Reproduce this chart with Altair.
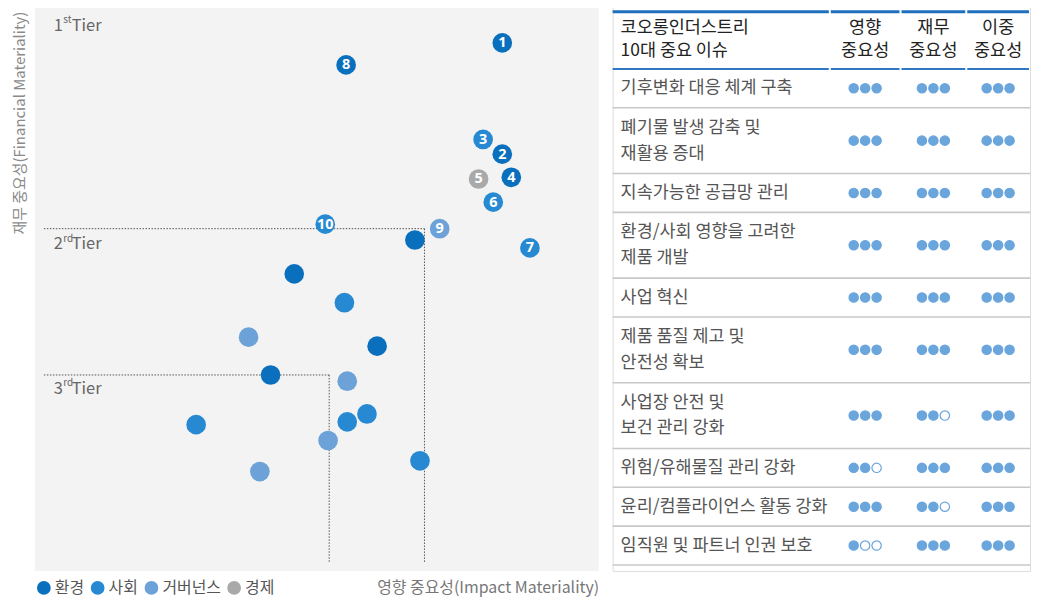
import altair as alt
import pandas as pd

FONT = "Noto Sans CJK KR"

# ---------------- scatter data (0-100 scale on both axes) ----------------
point_label = ["", "", "", "", "", "", "", "", "", "", "", "", "",
               "8", "10", "9", "7", "6", "5", "3", "2", "4", "1"]
point_category = ["환경", "환경", "사회", "거버넌스", "환경", "환경", "거버넌스", "사회", "사회", "사회", "거버넌스", "사회", "거버넌스",
                  "환경", "사회", "거버넌스", "사회", "사회", "경제", "사회", "환경", "환경", "환경"]
impact_x = [67.4, 46.0, 54.9, 37.9, 60.7, 41.8, 55.4, 58.9, 55.4, 28.6, 52.0, 68.3, 39.9,
            55.2, 51.5, 71.8, 87.8, 81.3, 78.7, 79.5, 82.9, 84.5, 82.9]
financial_y = [58.6, 52.6, 47.5, 41.4, 39.8, 34.7, 33.6, 27.8, 26.4, 25.9, 23.1, 19.5, 17.6,
               89.6, 61.4, 60.6, 57.2, 65.3, 69.4, 76.4, 73.8, 69.7, 93.5]

categories = ["환경", "사회", "거버넌스", "경제"]
category_colors = ["#0a6fbd", "#2789d1", "#6da2d8", "#a9a9a9"]

tier_number = ["1", "2", "3"]
tier_suffix = ["st", "rd", "rd"]
tier_label_y = [96.5, 57.8, 32.2]
tier_x = [69.1, 52.2]      # impact threshold of 2nd / 3rd tier
tier_y = [60.6, 34.7]      # financial threshold of 2nd / 3rd tier

# ---------------- table data ----------------
issues = ["기후변화 대응 체계 구축", "폐기물 발생 감축 및\n재활용 증대", "지속가능한 공급망 관리",
          "환경/사회 영향을 고려한\n제품 개발", "사업 혁신", "제품 품질 제고 및\n안전성 확보",
          "사업장 안전 및\n보건 관리 강화", "위험/유해물질 관리 강화",
          "윤리/컴플라이언스 활동 강화", "임직원 및 파트너 인권 보호"]
impact_rating = [3, 3, 3, 3, 3, 3, 3, 2, 3, 1]
financial_rating = [3, 3, 3, 3, 3, 3, 2, 3, 2, 3]
dual_rating = [3, 3, 3, 3, 3, 3, 3, 3, 3, 3]
table_title = "코오롱인더스트리\n10대 중요 이슈"
column_headers = ["영향\n중요성", "재무\n중요성", "이중\n중요성"]

# ---------------- scatter chart ----------------
W, H = 566, 567
pts = pd.DataFrame({"x": impact_x, "y": financial_y, "cat": point_category, "label": point_label})
xs = alt.Scale(domain=[0, 100], nice=False, zero=False)
ys = alt.Scale(domain=[0, 100], nice=False, zero=False)
xaxis = alt.Axis(title="영향 중요성(Impact Materiality)", labels=False, ticks=False, domain=False, grid=False,
                 titleAnchor="end", titleFontSize=16, titleFontWeight="normal", titleColor="#777777",
                 titlePadding=9, titleFont=FONT)
yaxis = alt.Axis(title="재무 중요성(Financial Materiality)", labels=False, ticks=False, domain=False, grid=False,
                 titleAnchor="end", titleFontSize=15, titleFontWeight="normal", titleColor="#8a8a8a",
                 titlePadding=7, titleFont=FONT, titleY=5)

rules = []
for tx, ty in zip(tier_x, tier_y):
    rules.append({"x": 1.6, "x2": tx, "y": ty, "y2": ty})
    rules.append({"x": tx, "x2": tx, "y": ty, "y2": 1.4})
rules_df = pd.DataFrame(rules)

dash = alt.Chart(rules_df).mark_rule(color="#555555", strokeWidth=1, strokeDash=[1.5, 1.5]).encode(
    x=alt.X("x:Q", scale=xs, axis=xaxis), x2="x2:Q",
    y=alt.Y("y:Q", scale=ys, axis=yaxis), y2="y2:Q")

circles = alt.Chart(pts).mark_circle(size=390, opacity=1).encode(
    x=alt.X("x:Q", scale=xs, axis=xaxis),
    y=alt.Y("y:Q", scale=ys, axis=yaxis),
    color=alt.Color("cat:N", scale=alt.Scale(domain=categories, range=category_colors),
                    sort=categories,
                    legend=alt.Legend(title=None, orient="none", legendX=1, legendY=576, direction="horizontal",
                                      columns=4, symbolType="circle", symbolSize=190, symbolStrokeWidth=0,
                                      labelFontSize=16, labelColor="#555555", labelFont=FONT, labelOffset=3,
                                      columnPadding=5, padding=0)))

nums = alt.Chart(pts).mark_text(color="white", fontSize=14.5, fontWeight="bold", font="Noto Sans",
                                align="center", baseline="middle", dy=0.5).encode(
    x=alt.X("x:Q", scale=xs, axis=xaxis), y=alt.Y("y:Q", scale=ys, axis=yaxis), text="label:N")

tiers = pd.DataFrame({"num": tier_number, "suf": tier_suffix, "y": tier_label_y, "x": [3.35] * 3})
tier_num = alt.Chart(tiers).mark_text(fontSize=16.5, color="#666666", align="left", baseline="middle", font=FONT).encode(
    x=alt.X("x:Q", scale=xs, axis=xaxis), y=alt.Y("y:Q", scale=ys, axis=yaxis), text="num:N")
tier_suf = alt.Chart(tiers).mark_text(fontSize=10, color="#666666", align="left", baseline="middle", dx=9.5, dy=-6,
                                      font=FONT).encode(
    x=alt.X("x:Q", scale=xs, axis=xaxis), y=alt.Y("y:Q", scale=ys, axis=yaxis), text="suf:N")
tier_word = alt.Chart(tiers).mark_text(fontSize=16.5, color="#666666", align="left", baseline="middle", dx=18,
                                       font=FONT, text="Tier").encode(
    x=alt.X("x:Q", scale=xs, axis=xaxis), y=alt.Y("y:Q", scale=ys, axis=yaxis))

left = alt.layer(dash, circles, nums, tier_num, tier_suf, tier_word).properties(
    width=W, height=H, view=alt.ViewBackground(fill="#f3f3f3", strokeWidth=0))

# ---------------- table chart ----------------
TW, TH = 419, 567
col_edges = [0, 218, 289, 355, 419]
col_centers = [(col_edges[i] + col_edges[i + 1]) / 2 for i in range(1, 4)]
header_top, header_bottom, row_h1, row_h2 = 5.5, 63, 39, 66
LH = 26          # line height of wrapped cell text
TFS = 17.5       # table font size

bounds = [header_top, header_bottom]
for t in issues:
    bounds.append(bounds[-1] + (row_h2 if "\n" in t else row_h1))


def first_line_y(center, text, lh):
    n = text.count("\n") + 1
    return center - (n - 1) * lh / 2


lines = []
for yy, colr, wdt in [(bounds[0], "#1f6fbf", 3), (bounds[1], "#2e78c4", 2)]:
    for i in range(4):
        lines.append({"x": col_edges[i] + (1 if i > 0 else 0), "x2": col_edges[i + 1] - 1,
                      "y": yy, "c": colr, "w": wdt})
for yy in bounds[2:]:
    lines.append({"x": 0, "x2": TW, "y": yy, "c": "#c8c8c8", "w": 1.6})
lines_df = pd.DataFrame(lines)

txs = alt.Scale(domain=[0, TW], nice=False, zero=False)
tys = alt.Scale(domain=[0, TH], nice=False, zero=False, reverse=True)

t_rules = alt.Chart(lines_df).mark_rule().encode(
    x=alt.X("x:Q", scale=txs, axis=None), x2="x2:Q",
    y=alt.Y("y:Q", scale=tys, axis=None),
    color=alt.Color("c:N", scale=None), strokeWidth=alt.StrokeWidth("w:Q", scale=None))

head_center = (bounds[0] + bounds[1]) / 2 - 1
head_texts = [table_title] + column_headers
head_df = pd.DataFrame({"x": [8] + col_centers,
                        "y": [first_line_y(head_center, t, 23) for t in head_texts],
                        "t": head_texts})
t_head_left = alt.Chart(head_df.iloc[:1]).mark_text(align="left", baseline="middle", lineBreak="\n", lineHeight=23,
                                                    fontSize=TFS, color="#222222", font=FONT).encode(
    x=alt.X("x:Q", scale=txs, axis=None), y=alt.Y("y:Q", scale=tys, axis=None), text="t:N")
t_head_cols = alt.Chart(head_df.iloc[1:]).mark_text(align="center", baseline="middle", lineBreak="\n", lineHeight=23,
                                                    fontSize=TFS, color="#222222", font=FONT).encode(
    x=alt.X("x:Q", scale=txs, axis=None), y=alt.Y("y:Q", scale=tys, axis=None), text="t:N")

row_centers = [(bounds[i + 1] + bounds[i + 2]) / 2 for i in range(len(issues))]
rows_df = pd.DataFrame({"x": [8] * len(issues),
                        "y": [first_line_y(c, t, LH) for c, t in zip(row_centers, issues)],
                        "t": issues})
t_rows = alt.Chart(rows_df).mark_text(align="left", baseline="middle", lineBreak="\n", lineHeight=LH,
                                      fontSize=TFS, color="#555555", font=FONT).encode(
    x=alt.X("x:Q", scale=txs, axis=None), y=alt.Y("y:Q", scale=tys, axis=None), text="t:N")

dots = []
for r, yy in enumerate(row_centers):
    for c, ratings in enumerate([impact_rating, financial_rating, dual_rating]):
        for k in range(3):
            dots.append({"x": col_centers[c] + (k - 1) * 11.5, "y": yy, "filled": k < ratings[r]})
dots_df = pd.DataFrame(dots)
t_dots = alt.Chart(dots_df).mark_point(shape="circle", size=88, strokeWidth=1.2, opacity=1, color="#6aa5dc").encode(
    x=alt.X("x:Q", scale=txs, axis=None), y=alt.Y("y:Q", scale=tys, axis=None),
    fill=alt.condition("datum.filled", alt.value("#6aa5dc"), alt.value("#ffffff")),
    stroke=alt.value("#6aa5dc"))

right = alt.layer(t_rules, t_head_left, t_head_cols, t_rows, t_dots).properties(width=TW, height=TH)

chart = alt.hconcat(left, right, spacing=12).configure_view(strokeWidth=0).configure(
    font=FONT).properties(padding={"left": 4, "top": -4, "right": 0, "bottom": 0})

chart.save("out.html", embed_options={"renderer": "svg", "actions": False})
